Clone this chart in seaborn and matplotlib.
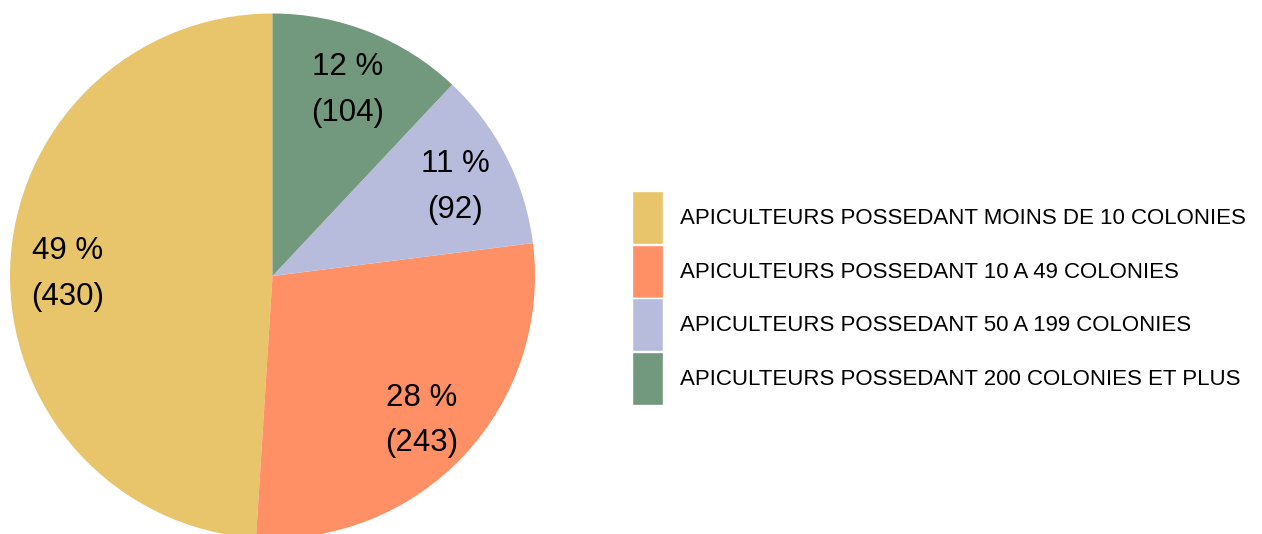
import matplotlib
matplotlib.use("Agg")
import matplotlib.pyplot as plt
import seaborn as sns

# data (wedges follow the rounded percentages)
categories = [
    "APICULTEURS POSSEDANT MOINS DE 10 COLONIES",
    "APICULTEURS POSSEDANT 10 A 49 COLONIES",
    "APICULTEURS POSSEDANT 50 A 199 COLONIES",
    "APICULTEURS POSSEDANT 200 COLONIES ET PLUS",
]
percents = [49, 28, 11, 12]
counts = [430, 243, 92, 104]
colors = ["#E8C46A", "#FF9065", "#B8BCDC", "#72997D"]

sns.set_theme(style="white")
plt.rcParams['font.family'] = ['Liberation Sans', 'DejaVu Sans']

W, H = 1262, 534
fig = plt.figure(figsize=(W / 100, H / 100), dpi=100)

# pie centre (272, 276) px, radius 262 px
cx, cy, r = 272.5, 276, 262.5
ax = fig.add_axes([(cx - r) / W, (H - cy - r) / H, 2 * r / W, 2 * r / H])

wedges, texts, autotexts = ax.pie(
    percents, colors=sns.color_palette(colors), startangle=90, counterclock=True,
    autopct="%d", pctdistance=0.78, wedgeprops=dict(linewidth=0),
    textprops=dict(fontsize=22.5, color="black", linespacing=1.68),
)
for t, p, n in zip(autotexts, percents, counts):
    t.set_text(f"{p} %\n({n})")
    x, y = t.get_position()
    t.set_position((x, y - 0.016))

ax.set_xlim(-1, 1)
ax.set_ylim(-1, 1)
ax.set_aspect("equal")
ax.axis("off")

leg = fig.legend(
    wedges, categories, loc="center left",
    bbox_to_anchor=(632 / W, 1 - 298 / H), frameon=False,
    fontsize=16, handlelength=1.4, handleheight=3.3,
    handletextpad=0.77, labelspacing=0.02, borderpad=0, borderaxespad=0,
)
for h in leg.legend_handles:
    h.set_edgecolor("white")
    h.set_linewidth(1)
for t in leg.get_texts():
    t.set_color("black")

fig.savefig("out.png", dpi=100)
